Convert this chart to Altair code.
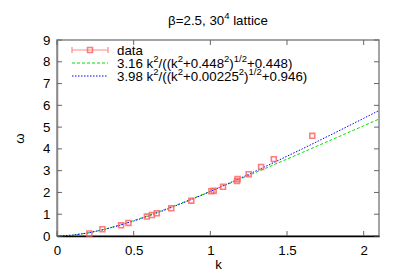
import altair as alt
import pandas as pd

# data points
k_data = [0.211, 0.296, 0.418, 0.466, 0.586, 0.619, 0.651, 0.745, 0.876, 1.007, 1.022, 1.083, 1.174, 1.178, 1.25, 1.331, 1.414, 1.665]
w_data = [0.12, 0.31, 0.49, 0.60, 0.89, 0.96, 1.04, 1.27, 1.62, 2.05, 2.08, 2.26, 2.53, 2.62, 2.84, 3.17, 3.53, 4.60]

k_fit = [0.0, 0.1, 0.2, 0.3, 0.4, 0.5, 0.6, 0.7, 0.8, 0.9, 1.0, 1.2, 1.4, 1.6, 1.8, 2.0, 2.1]
w_fit1 = [0.0, 0.035, 0.135, 0.288, 0.482, 0.706, 0.951, 1.211, 1.482, 1.761, 2.047, 2.632, 3.229, 3.835, 4.446, 5.061, 5.370]
w_fit2 = [0.0, 0.038, 0.138, 0.287, 0.472, 0.687, 0.926, 1.184, 1.458, 1.745, 2.044, 2.670, 3.324, 4.001, 4.695, 5.403, 5.761]

x_ticks = [0, 0.5, 1, 1.5, 2]
y_ticks = [0, 1, 2, 3, 4, 5, 6, 7, 8, 9]

# text pieces: (text, is_superscript)
title_parts = [("β=2.5, 30", False), ("4", True), (" lattice", False)]
legend_data = [("data", False)]
legend_fit1 = [("3.16 k", False), ("2", True), ("/((k", False), ("2", True), ("+0.448", False),
               ("2", True), (")", False), ("1/2", True), ("+0.448)", False)]
legend_fit2 = [("3.98 k", False), ("2", True), ("/((k", False), ("2", True), ("+0.00225", False),
               ("2", True), (")", False), ("1/2", True), ("+0.946)", False)]

W, H = 322, 196
FONT = "Liberation Sans"
FS = 13.3
SFS = 9.5

# Arial / Liberation Sans advance widths (per 1000 em)
ADV = {"0": 556, "1": 556, "2": 556, "3": 556, "4": 556, "5": 556, "6": 556, "7": 556,
       "8": 556, "9": 556, ".": 278, " ": 278, "k": 500, "/": 278, "(": 333,
       ")": 333, "+": 584, "=": 584, ",": 278, "a": 556, "t": 278, "l": 222, "i": 222,
       "c": 500, "e": 556, "d": 556, "β": 575}


def width(s, fs):
    return sum(ADV.get(ch, 556) for ch in s) * fs / 1000.0


def rich_text(parts, x0, y_mid, anchor="left"):
    total = sum(width(t, SFS if sup else FS) for t, sup in parts)
    x = x0 - total / 2 if anchor == "center" else x0
    base = y_mid + 4.6
    layers = []
    d = pd.DataFrame({"a": [0]})
    for t, sup in parts:
        fs = SFS if sup else FS
        while t.startswith(" "):
            x += width(" ", fs)
            t = t[1:]
        layers.append(alt.Chart(d).mark_text(align="left", baseline="alphabetic", fontSize=fs,
                                             font=FONT, color="black").encode(
            x=alt.value(x), y=alt.value(base - 5.5 if sup else base), text=alt.value(t)))
        x += width(t, fs)
    return layers


df_pts = pd.DataFrame({"k": k_data, "w": w_data})
df_fit = pd.DataFrame({"k": k_fit, "f1": w_fit1, "f2": w_fit2})
df_xt = pd.DataFrame({"t": x_ticks})
df_yt = pd.DataFrame({"t": y_ticks})

xs = alt.Scale(domain=[0, 2.1], nice=False, zero=False)
ys = alt.Scale(domain=[0, 9], nice=False, zero=False)

xaxis = alt.Axis(values=x_ticks, format="~g", title="k", grid=False, ticks=False, domain=True,
                 domainColor="black", domainWidth=1.5, labelFontSize=FS, labelFont=FONT,
                 labelColor="black", labelPadding=7, titleFont=FONT, titleFontSize=FS,
                 titleFontWeight="normal", titlePadding=1, labelFlush=False, labelOverlap=False)
yaxis = alt.Axis(values=y_ticks, format="~g", title="ω", grid=False, ticks=False, domain=True,
                 domainColor="#888888", domainWidth=1.5, labelFontSize=FS, labelFont=FONT,
                 labelColor="black", labelPadding=7, titleFont=FONT, titleFontSize=FS,
                 titleFontWeight="normal", titlePadding=16, labelFlush=False, labelOverlap=False)


def X(f):
    return alt.X(f, scale=xs, axis=xaxis, title="k")


def Y(f):
    return alt.Y(f, scale=ys, axis=yaxis, title="ω")


fit1 = alt.Chart(df_fit).mark_line(color="#00dd00", strokeWidth=1, strokeDash=[3, 2]).encode(
    x=X("k:Q"), y=Y("f1:Q"))
fit2 = alt.Chart(df_fit).mark_line(color="#0000ff", strokeWidth=1, strokeDash=[1.5, 1.5]).encode(
    x=X("k:Q"), y=Y("f2:Q"))
pts = alt.Chart(df_pts).mark_point(shape="square", size=24, filled=False, color="#ff6666",
                                   strokeWidth=1.6, opacity=0.85).encode(
    x=X("k:Q"), y=Y("w:Q"))

tick_col = "#666666"
xt_b = alt.Chart(df_xt).mark_rule(color=tick_col, strokeWidth=1).encode(
    x=X("t:Q"), y=alt.value(H), y2=alt.value(H - 5))
xt_t = alt.Chart(df_xt).mark_rule(color=tick_col, strokeWidth=1).encode(
    x=X("t:Q"), y=alt.value(0), y2=alt.value(5))
yt_l = alt.Chart(df_yt).mark_rule(color=tick_col, strokeWidth=1).encode(
    y=Y("t:Q"), x=alt.value(0), x2=alt.value(5))
yt_r = alt.Chart(df_yt).mark_rule(color=tick_col, strokeWidth=1).encode(
    y=Y("t:Q"), x=alt.value(W), x2=alt.value(W - 5))

# legend
dummy = pd.DataFrame({"a": [0]})
leg = []
rows = [10, 23, 36]
leg.append(alt.Chart(dummy).mark_rule(color="#ff8888", strokeWidth=1.2).encode(
    x=alt.value(15), x2=alt.value(51), y=alt.value(rows[0])))
leg.append(alt.Chart(dummy).mark_rule(color="#ff8888", strokeWidth=1.2).encode(
    x=alt.value(15), y=alt.value(rows[0] - 3), y2=alt.value(rows[0] + 3)))
leg.append(alt.Chart(dummy).mark_rule(color="#ff8888", strokeWidth=1.2).encode(
    x=alt.value(51), y=alt.value(rows[0] - 3), y2=alt.value(rows[0] + 3)))
leg.append(alt.Chart(dummy).mark_point(shape="square", size=24, filled=False, color="#ff6666",
                                       strokeWidth=1.6, opacity=0.85).encode(
    x=alt.value(33), y=alt.value(rows[0])))
leg.append(alt.Chart(dummy).mark_rule(color="#00dd00", strokeWidth=1, strokeDash=[3, 2]).encode(
    x=alt.value(15), x2=alt.value(51), y=alt.value(rows[1])))
leg.append(alt.Chart(dummy).mark_rule(color="#0000ff", strokeWidth=1, strokeDash=[1.5, 1.5]).encode(
    x=alt.value(15), x2=alt.value(51), y=alt.value(rows[2])))
for parts, r in zip([legend_data, legend_fit1, legend_fit2], rows):
    leg += rich_text(parts, 60, r)

title_layers = rich_text(title_parts, W / 2, -20, anchor="center")

chart = alt.layer(fit1, fit2, pts, xt_b, xt_t, yt_l, yt_r, *leg, *title_layers).properties(
    width=W, height=H,
    autosize=alt.AutoSizeParams(type="none"),
    padding={"left": 49, "top": 32, "right": 12, "bottom": 35},
).configure_view(stroke="#888888", strokeWidth=1.5).configure_axisY(titleAngle=270)

chart.save("out.html", embed_options={"renderer": "svg", "actions": False})
